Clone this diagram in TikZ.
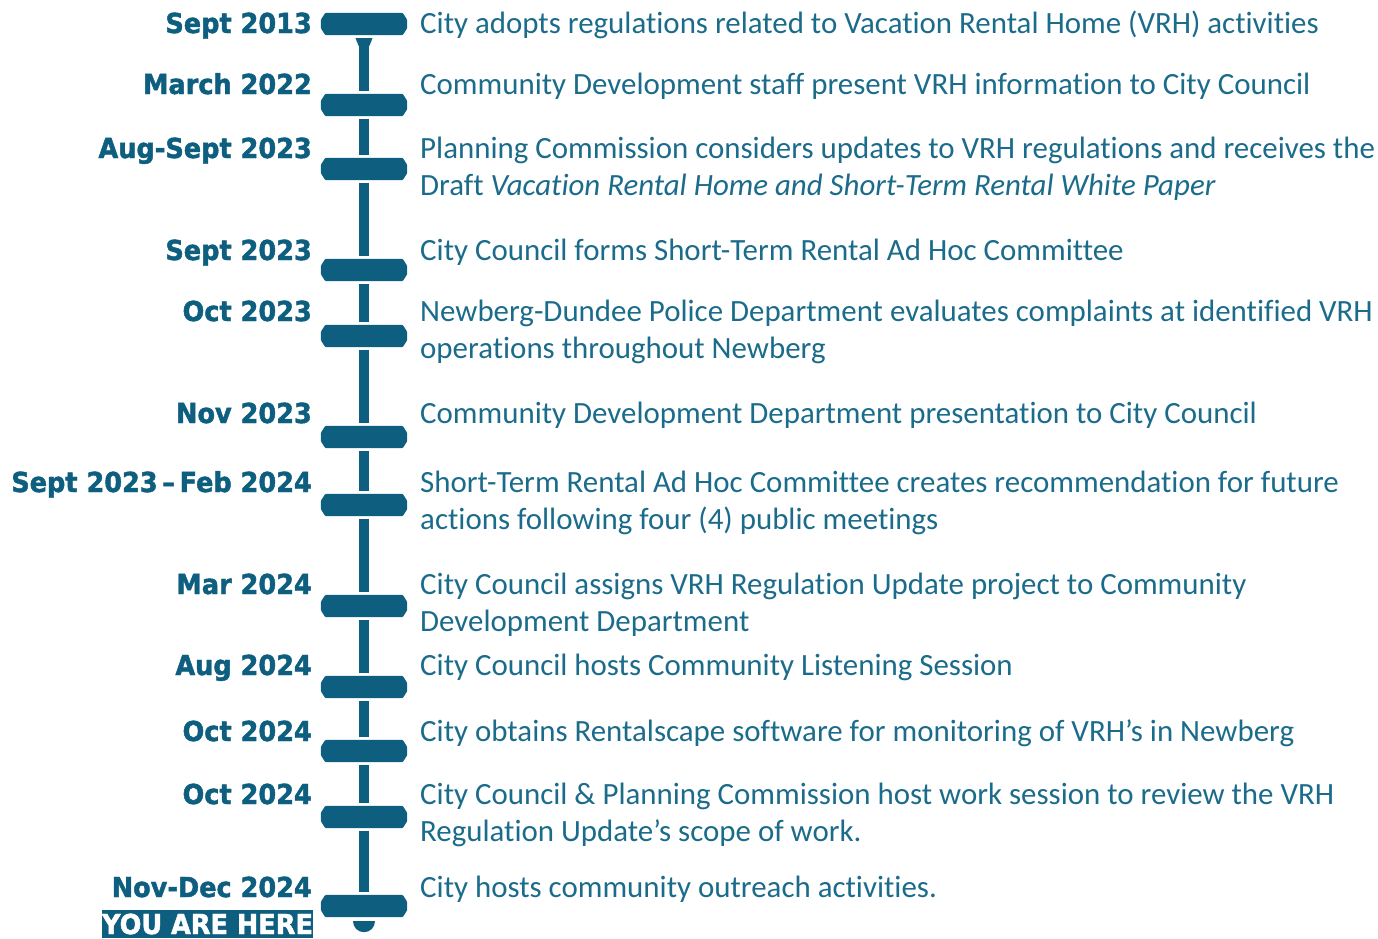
\documentclass[tikz,border=0pt]{standalone}
\usepackage{fontspec}
\setmainfont{Carlito}[Ligatures=NoCommon]
\newfontfamily\lblfont{DejaVu Sans}[FakeStretch=0.93, BoldFeatures={FakeBold=1.6}]
\definecolor{tealmark}{HTML}{0E5F7F}
\definecolor{tealtext}{HTML}{1B6B8B}
\begin{document}
\begin{tikzpicture}[x=1pt,y=-1pt,
  marker/.style={rectangle, draw=none, minimum width=86pt,
    minimum height=22pt, inner sep=0pt},
  markfill/.style={fill=tealmark, rounded corners=1pt},
  when/.style={anchor=base east, inner sep=0pt, text=tealmark,
    font=\lblfont\bfseries\fontsize{27.5}{30}\selectfont},
  what/.style={anchor=base west, inner sep=0pt, text=tealtext, align=left,
    font=\fontsize{30.9}{37}\selectfont},
  stem/.style={draw=tealmark, line width=10.5pt, shorten <=3pt, shorten >=3pt},
  herebox/.style={fill=tealmark, text=white, inner sep=0pt,
    minimum width=211pt, minimum height=28pt,
    font=\lblfont\bfseries\fontsize{27.5}{30}\selectfont}]
\useasboundingbox (0,0) rectangle (1378,938);

% timeline markers: elongated octagonal bars
\foreach \i/\y in {1/24,2/105,3/169,4/270,5/336,6/437,7/505,8/606,9/687,10/751,11/817,12/906}{
  \node[marker] (m\i) at (364,\y) {};
  \fill[markfill] ([xshift=4.5pt]m\i.north west) -- ([xshift=-4.5pt]m\i.north east)
    -- ([yshift=-7pt]m\i.north east) -- ([yshift=7pt]m\i.south east)
    -- ([xshift=-4.5pt]m\i.south east) -- ([xshift=4.5pt]m\i.south west)
    -- ([yshift=7pt]m\i.south west) -- ([yshift=-7pt]m\i.north west) -- cycle;
}

% stem segments between markers
\foreach \a/\b in {1/2,2/3,3/4,4/5,5/6,6/7,7/8,8/9,9/10,10/11,11/12}
  \draw[stem] (m\a.south) -- (m\b.north);

% flared top of the stem and rounded foot
\fill[tealmark] ([yshift=-3pt]m1.south) ++(-8.5pt,0) -- ++(17pt,0)
  -- ++(-3.25pt,-8pt) -- ++(-10.5pt,0) -- cycle;
\fill[tealmark] ([yshift=-4pt]m12.south) ++(-11pt,0)
  arc[start angle=180, end angle=360, radius=11pt] -- cycle;

% dates
\node[when] (w1)  at (312,33)  {Sept 2013};
\node[when] (w2)  at (312,94)  {March 2022};
\node[when] (w3)  at (312,158) {Aug-Sept 2023};
\node[when] (w4)  at (312,260) {Sept 2023};
\node[when] (w5)  at (312,321) {Oct 2023};
\node[when] (w6)  at (312,423) {Nov 2023};
\node[when] (w7)  at (312,492) {Sept 2023\,–\,Feb 2024};
\node[when] (w8)  at (312,594) {Mar 2024};
\node[when] (w9)  at (312,675) {Aug 2024};
\node[when] (w10) at (312,741) {Oct 2024};
\node[when] (w11) at (312,804) {Oct 2024};
\node[when] (w12) at (312,897) {Nov-Dec 2024};
\node[herebox] (here) at (207.5,924) {YOU ARE HERE};

% milestones (two-line entries are placed by their last baseline)
\node[what] (d1)  at (420,33)  {City adopts regulations related to Vacation Rental Home (VRH) activities};
\node[what] (d2)  at (420,94)  {Community Development staff present VRH information to City Council};
\node[what] (d3)  at (420,195) {Planning Commission considers updates to VRH regulations and receives the\\Draft \textit{Vacation Rental Home and Short-Term Rental White Paper}};
\node[what] (d4)  at (420,260) {City Council forms Short-Term Rental Ad Hoc Committee};
\node[what] (d5)  at (420,358) {Newberg-Dundee Police Department evaluates complaints at identified VRH\\operations throughout Newberg};
\node[what] (d6)  at (420,423) {Community Development Department presentation to City Council};
\node[what] (d7)  at (420,529) {Short-Term Rental Ad Hoc Committee creates recommendation for future\\actions following four (4) public meetings};
\node[what] (d8)  at (420,631) {City Council assigns VRH Regulation Update project to Community\\Development Department};
\node[what] (d9)  at (420,675) {City Council hosts Community Listening Session};
\node[what] (d10) at (420,741) {City obtains Rentalscape software for monitoring of VRH’s in Newberg};
\node[what] (d11) at (420,841) {City Council \& Planning Commission host work session to review the VRH\\Regulation Update’s scope of work.};
\node[what] (d12) at (420,897) {City hosts community outreach activities.};
\end{tikzpicture}
\end{document}
